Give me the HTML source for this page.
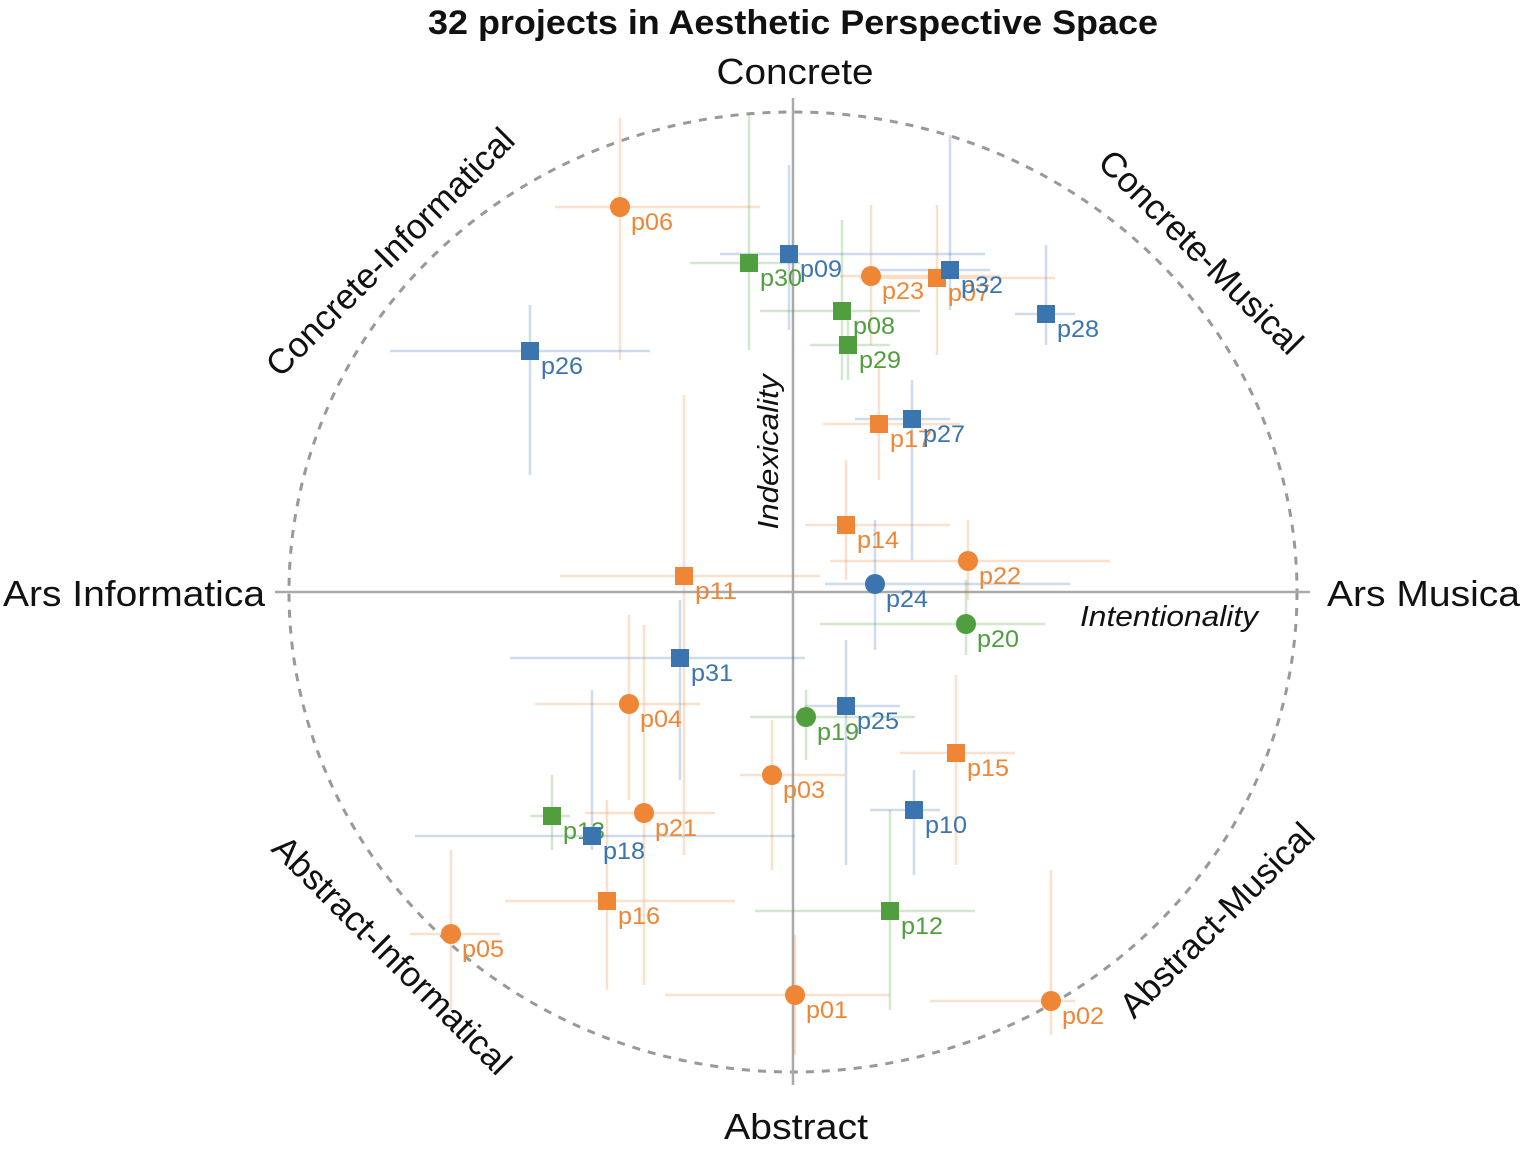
<!DOCTYPE html>
<html><head><meta charset="utf-8"><style>
html,body{margin:0;padding:0;background:#fff}
svg{display:block;font-family:"Liberation Sans",Arial,sans-serif}
</style></head><body>
<svg width="1535" height="1157" viewBox="0 0 1535 1157">
<rect width="1535" height="1157" fill="#fff"/>
<text x="793" y="34" text-anchor="middle" font-size="34" font-weight="bold" fill="#111" textLength="730" lengthAdjust="spacingAndGlyphs">32 projects in Aesthetic Perspective Space</text>
<ellipse cx="793" cy="592" rx="504" ry="480" fill="none" stroke="#999" stroke-width="3" stroke-dasharray="8,8"/>
<line x1="275" y1="592" x2="1310" y2="592" stroke="#aaa" stroke-width="2.5"/>
<line x1="793" y1="98" x2="793" y2="1085" stroke="#aaa" stroke-width="2.5"/>
<g font-size="36" fill="#111">
<text x="795" y="84" text-anchor="middle" textLength="157" lengthAdjust="spacingAndGlyphs">Concrete</text>
<text x="796" y="1139" text-anchor="middle" textLength="144" lengthAdjust="spacingAndGlyphs">Abstract</text>
<text x="3" y="606" textLength="262" lengthAdjust="spacingAndGlyphs">Ars Informatica</text>
<text x="1327" y="606" textLength="193" lengthAdjust="spacingAndGlyphs">Ars Musica</text>
</g>
<g font-size="35" fill="#111">
<text transform="translate(390,252) rotate(-45)" text-anchor="middle" dy="12">Concrete-Informatical</text>
<text transform="translate(1201,252) rotate(45)" text-anchor="middle" dy="12">Concrete-Musical</text>
<text transform="translate(392,955) rotate(45)" text-anchor="middle" dy="12">Abstract-Informatical</text>
<text transform="translate(1217,920) rotate(-45)" text-anchor="middle" dy="12">Abstract-Musical</text>
</g>
<text transform="translate(768,452) rotate(-90)" text-anchor="middle" dy="10" font-size="29" font-style="italic" fill="#111" textLength="155" lengthAdjust="spacingAndGlyphs">Indexicality</text>
<text x="1169" y="626" text-anchor="middle" font-size="29" font-style="italic" fill="#111" textLength="178" lengthAdjust="spacingAndGlyphs">Intentionality</text>
<g id="pts"></g>
</svg>
<script>
var O="#ef8636",B="#3b75af",G="#519e3e";
var d=[
["p06","c",O,620,207,555,760,118,360],
["p30","s",G,749,263,690,800,115,350],
["p09","s",B,789,254,720,985,165,330],
["p23","c",O,871,276,840,1000,205,345],
["p07","s",O,937,278,860,1055,205,355],
["p32","s",B,950,270,880,990,135,310],
["p28","s",B,1046,314,1015,1075,245,345],
["p08","s",G,842,311,760,920,220,380],
["p29","s",G,848,345,810,890,305,380],
["p26","s",B,530,351,390,650,305,475],
["p17","s",O,879,424,823,960,360,480],
["p27","s",B,912,419,855,950,380,560],
["p14","s",O,846,525,805,950,460,580],
["p22","c",O,968,561,830,1110,520,600],
["p11","s",O,684,576,560,820,395,855],
["p24","c",B,875,584,825,1070,520,650],
["p20","c",G,966,624,820,1045,580,655],
["p31","s",B,680,658,510,805,600,780],
["p04","c",O,629,704,535,700,615,800],
["p25","s",B,846,706,805,900,640,865],
["p19","c",G,806,717,750,915,690,760],
["p15","s",O,956,753,900,1015,675,865],
["p03","c",O,772,775,740,845,720,870],
["p10","s",B,914,810,870,940,770,875],
["p21","c",O,644,813,585,715,625,985],
["p13","s",G,552,816,530,570,775,850],
["p18","s",B,592,836,415,795,690,850],
["p16","s",O,607,901,505,735,800,990],
["p12","s",G,890,911,755,975,810,1010],
["p05","c",O,451,934,410,500,850,1010],
["p01","c",O,795,995,665,890,935,1055],
["p02","c",O,1051,1001,930,1075,870,1035]];
var g=document.getElementById("pts"),s="";
d.forEach(function(p){s+='<line x1="'+p[5]+'" y1="'+p[4]+'" x2="'+p[6]+'" y2="'+p[4]+'" stroke="'+p[2]+'" stroke-opacity="0.25" stroke-width="2.5"/>'+
'<line x1="'+p[3]+'" y1="'+p[7]+'" x2="'+p[3]+'" y2="'+p[8]+'" stroke="'+p[2]+'" stroke-opacity="0.25" stroke-width="2.5"/>';});
d.forEach(function(p){
if(p[1]=="c")s+='<circle cx="'+p[3]+'" cy="'+p[4]+'" r="10" fill="'+p[2]+'"/>';
else s+='<rect x="'+(p[3]-9)+'" y="'+(p[4]-9)+'" width="18" height="18" fill="'+p[2]+'"/>';
s+='<text x="'+(p[3]+11)+'" y="'+(p[4]+23)+'" font-size="24" fill="'+p[2]+'" textLength="42" lengthAdjust="spacingAndGlyphs">'+p[0]+'</text>';});
g.innerHTML=s;
</script>
</body></html>
